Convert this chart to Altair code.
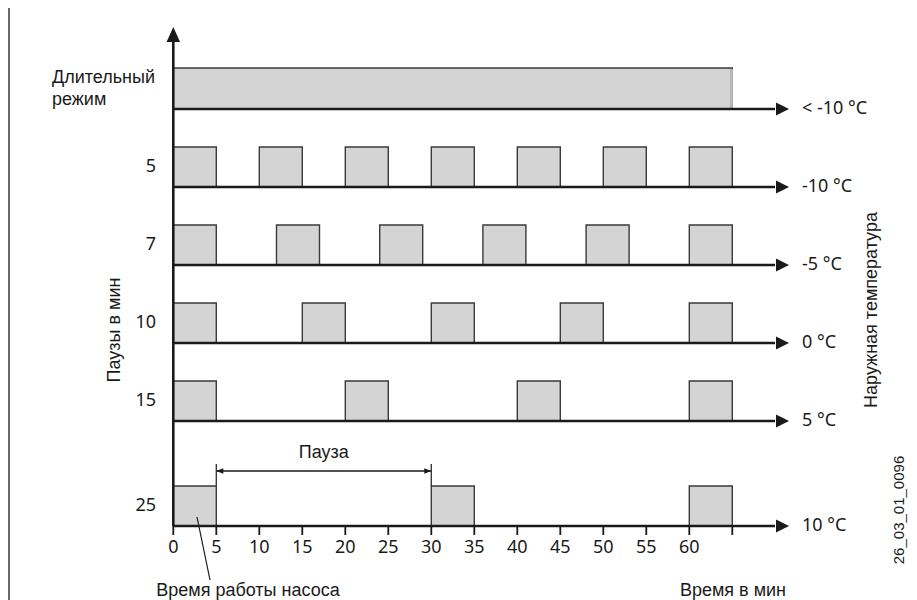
import altair as alt
import pandas as pd

# ---------------- data ----------------
pause_labels = ["5", "7", "10", "15", "25"]
temp_labels = ["< -10 °C", "-10 °C", "-5 °C", "0 °C", "5 °C", "10 °C"]
continuous_run = [0, 65]               # continuous mode: start, end (min)
run_starts = [                         # pump start times (min) per pause row
    [0, 10, 20, 30, 40, 50, 60],
    [0, 12, 24, 36, 48, 60],
    [0, 15, 30, 45, 60],
    [0, 20, 40, 60],
    [0, 30, 60],
]
run_length = 5                         # pump running time (min)
x_ticks = [0, 5, 10, 15, 20, 25, 30, 35, 40, 45, 50, 55, 60, 65]
x_tick_labels = [0, 5, 10, 15, 20, 25, 30, 35, 40, 45, 50, 55, 60]
pause_example = [5, 30]

# ---------------- layout ----------------
PX_PER_MIN = 8.6
W = 65 * PX_PER_MIN
H = 592
PAD_L = 165.3
PAD_R = 901 - W - PAD_L


def mx(page_x):  # page pixel -> minutes (for annotations only)
    return (page_x - 8 - PAD_L) / PX_PER_MIN


def my(page_y):
    return page_y - 8


bases = [my(109), my(187), my(265), my(343), my(421), my(526)]
bar_h = 40

xs = alt.Scale(domain=[0, 65], nice=False, zero=False)
ys = alt.Scale(domain=[H, 0], nice=False, zero=False)
X = lambda f: alt.X(f, type="quantitative", scale=xs, axis=None)
Y = lambda f: alt.Y(f, type="quantitative", scale=ys, axis=None)

# bars
bars = [{"x": continuous_run[0], "x2": continuous_run[1], "y": bases[0] - 41, "y2": bases[0]}]
for i, starts in enumerate(run_starts):
    b = bases[i + 1]
    for s in starts:
        bars.append({"x": s, "x2": s + run_length, "y": b - bar_h, "y2": b})
bars_df = pd.DataFrame(bars)

bar_layer = alt.Chart(bars_df).mark_rect(
    fill="#d4d4d4", stroke="#3a3a3a", strokeWidth=1.4
).encode(x=X("x"), x2="x2", y=Y("y"), y2="y2")

# subtle darker right edge of the continuous bar
cont_edge = alt.Chart(pd.DataFrame({"x": [continuous_run[1] - 0.1], "y": [bases[0] - 40], "y2": [bases[0] - 1]})).mark_rule(
    color="#b8b8b8", strokeWidth=3).encode(x=X("x"), y=Y("y"), y2="y2")

# row axis lines with arrows
shaft_end = mx(775)
tip = mx(789)
rows_df = pd.DataFrame({"y": bases, "x": [0] * 6, "x2": [shaft_end] * 6,
                        "tip": [tip] * 6, "lab": temp_labels, "lx": [mx(802)] * 6})
row_lines = alt.Chart(rows_df).mark_rule(color="#1a1a1a", strokeWidth=2.6).encode(
    x=X("x"), x2="x2", y=Y("y"))
row_heads = alt.Chart(rows_df).mark_point(
    shape="M-2,-1L0,0L-2,1Z", size=169, filled=True, fill="#1a1a1a", opacity=1, strokeWidth=0
).encode(x=X("tip"), y=Y("y"))
temp_text = alt.Chart(rows_df).mark_text(
    align="left", baseline="middle", font="Noto Sans", fontSize=18, color="#1a1a1a"
).encode(x=X("lx"), y=Y("y"), text="lab:N")

# vertical axis with arrow
vaxis = alt.Chart(pd.DataFrame({"x": [0], "y": [my(40)], "y2": [bases[-1]]})).mark_rule(
    color="#1a1a1a", strokeWidth=2.6).encode(x=X("x"), y=Y("y"), y2="y2")
vhead = alt.Chart(pd.DataFrame({"x": [0], "y": [my(27)]})).mark_point(
    shape="M0,0L0.9,2L-0.9,2Z", size=225, filled=True, fill="#1a1a1a", opacity=1, strokeWidth=0
).encode(x=X("x"), y=Y("y"))

# x ticks and labels
ticks_df = pd.DataFrame({"x": x_ticks, "y": [bases[-1]] * len(x_ticks), "y2": [bases[-1] + 9] * len(x_ticks)})
tick_layer = alt.Chart(ticks_df).mark_rule(color="#1a1a1a", strokeWidth=1.8).encode(
    x=X("x"), y=Y("y"), y2="y2")
tl_df = pd.DataFrame({"x": x_tick_labels, "y": [my(548)] * len(x_tick_labels),
                      "t": [str(v) for v in x_tick_labels]})
tick_text = alt.Chart(tl_df).mark_text(
    baseline="middle", font="Noto Sans", fontSize=18, color="#1a1a1a"
).encode(x=X("x"), y=Y("y"), text="t:N")

# pause row labels
pl_df = pd.DataFrame({"x": [mx(156)] * 5, "y": [b - 20 for b in bases[1:]], "t": pause_labels})
pause_text = alt.Chart(pl_df).mark_text(
    align="right", baseline="middle", font="Noto Sans", fontSize=18, color="#1a1a1a"
).encode(x=X("x"), y=Y("y"), text="t:N")

# free text annotations
ann = pd.DataFrame([
    {"x": mx(52), "y": my(78), "t": "Длительный", "a": "left"},
    {"x": mx(52), "y": my(100), "t": "режим", "a": "left"},
    {"x": 17.5, "y": my(453), "t": "Пауза", "a": "center"},
    {"x": mx(248), "y": my(591), "t": "Время работы насоса", "a": "center"},
    {"x": mx(733), "y": my(591), "t": "Время в мин", "a": "center"},
])
ann_left = alt.Chart(ann[ann.a == "left"]).mark_text(
    align="left", baseline="middle", font="Liberation Sans", fontSize=18, color="#1a1a1a"
).encode(x=X("x"), y=Y("y"), text="t:N")
ann_center = alt.Chart(ann[ann.a == "center"]).mark_text(
    align="center", baseline="middle", font="Liberation Sans", fontSize=18, color="#1a1a1a"
).encode(x=X("x"), y=Y("y"), text="t:N")

rot = pd.DataFrame([
    {"x": mx(115), "y": my(330), "t": "Паузы в мин"},
    {"x": mx(872), "y": my(310), "t": "Наружная температура"},
])
rot_text = alt.Chart(rot).mark_text(
    angle=270, align="center", baseline="middle", font="Liberation Sans", fontSize=18, color="#1a1a1a"
).encode(x=X("x"), y=Y("y"), text="t:N")
code_text = alt.Chart(pd.DataFrame({"x": [mx(899)], "y": [my(510)], "t": ["26_03_01_0096"]})).mark_text(
    angle=270, align="center", baseline="middle", font="Liberation Sans", fontSize=15, color="#1a1a1a"
).encode(x=X("x"), y=Y("y"), text="t:N")

# pause dimension arrow
pa_y = my(471)
pause_line = alt.Chart(pd.DataFrame({"x": [pause_example[0]], "x2": [pause_example[1]], "y": [pa_y]})).mark_rule(
    color="#1a1a1a", strokeWidth=1.3).encode(x=X("x"), x2="x2", y=Y("y"))
ext = alt.Chart(pd.DataFrame({"x": pause_example, "y": [my(464)] * 2, "y2": [bases[-1] - bar_h] * 2})).mark_rule(
    color="#3a3a3a", strokeWidth=1.4).encode(x=X("x"), y=Y("y"), y2="y2")
ph_left = alt.Chart(pd.DataFrame({"x": [pause_example[0]], "y": [pa_y]})).mark_point(
    shape="M0,0L2,-0.8L2,0.8Z", size=49, filled=True, fill="#1a1a1a", opacity=1, strokeWidth=0
).encode(x=X("x"), y=Y("y"))
ph_right = alt.Chart(pd.DataFrame({"x": [pause_example[1]], "y": [pa_y]})).mark_point(
    shape="M0,0L-2,-0.8L-2,0.8Z", size=49, filled=True, fill="#1a1a1a", opacity=1, strokeWidth=0
).encode(x=X("x"), y=Y("y"))

# leader line to "Время работы насоса"
leader = alt.Chart(pd.DataFrame({"x": [mx(197), mx(210)], "y": [my(517), my(580)]})).mark_line(
    color="#1a1a1a", strokeWidth=1.2).encode(x=X("x"), y=Y("y"))

# left frame line
frame = alt.Chart(pd.DataFrame({"x": [mx(9)], "y": [0], "y2": [H]})).mark_rule(
    color="#444444", strokeWidth=1.6).encode(x=X("x"), y=Y("y"), y2="y2")

chart = alt.layer(
    frame, bar_layer, cont_edge, row_lines, row_heads, vaxis, vhead, tick_layer, tick_text,
    pause_text, temp_text, ann_left, ann_center, rot_text, code_text,
    pause_line, ext, ph_left, ph_right, leader,
).properties(
    width=W, height=H,
    autosize=alt.AutoSizeParams(type="none"),
    padding={"left": PAD_L, "right": PAD_R, "top": 0, "bottom": 0},
    background="white",
).configure_view(stroke=None)

chart.save("out.html", embed_options={"renderer": "svg", "actions": False})
